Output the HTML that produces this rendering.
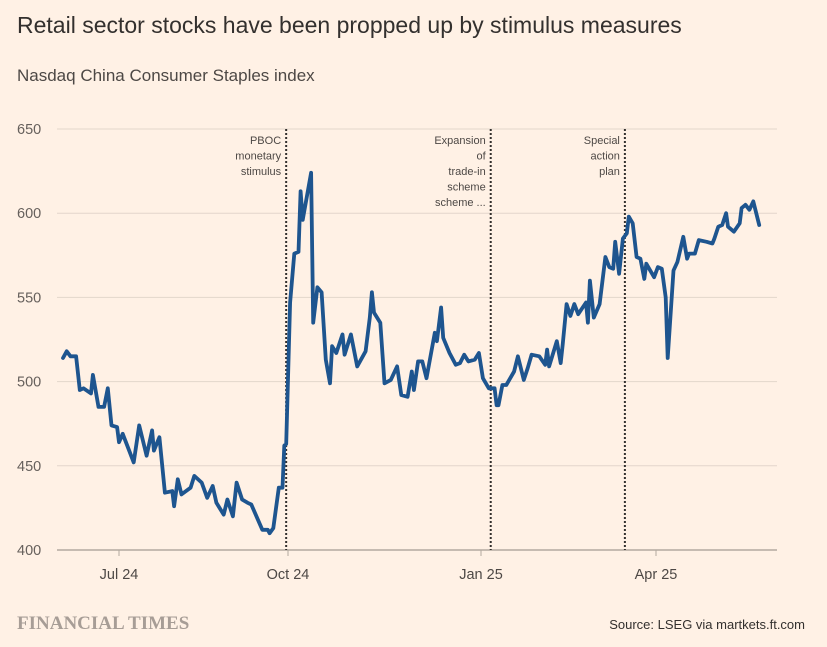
<!DOCTYPE html>
<html><head><meta charset="utf-8">
<style>
body{margin:0;background:#fff1e5;}
svg{display:block;font-family:"Liberation Sans",sans-serif;}
</style></head>
<body>
<svg width="827" height="647" viewBox="0 0 827 647" id="chart">
<rect width="827" height="647" fill="#fff1e5"/>
<text x="17" y="33" font-size="23" fill="#33302e">Retail sector stocks have been propped up by stimulus measures</text>
<text x="17" y="81" font-size="17" fill="#4d4845">Nasdaq China Consumer Staples index</text>
<g id="grid"></g>
<g id="xaxis"></g>
<g id="events"></g>
<g id="series"></g>
<text x="17" y="629" font-size="19" font-weight="bold" fill="#a79d96" font-family="Liberation Serif,serif">FINANCIAL TIMES</text>
<text x="805" y="629" font-size="13" fill="#33302e" text-anchor="end">Source: LSEG via martkets.ft.com</text>
</svg>
<script>
const yTicks=[400,450,500,550,600,650];
const xTickLabels=["Jul 24","Oct 24","Jan 25","Apr 25"];
const xTickDays=[0,92,184,274];
const days=[-30,-28,-26,-23,-21,-19,-15,-14,-11,-8,-6,-4,-1,0,2,8,11,15,18,19,22,25,29,30,32,34,39,41,45,48,51,53,57,59,62,64,67,70,72,78,81,82,84,87,89,90,91,
93,95,97,98,99,103,104,106,108,110,112,113,115,118,119,122,125,129,131,132,133,136,138,141,144,146,149,151,152,154,156,158,162,163,165,166,169,172,174,176,178,181,183,
185,188,191,192,193,195,197,201,203,206,208,210,214,217,218,219,223,225,226,228,230,232,234,238,239,240,242,245,248,250,252,253,255,257,259,260,262,264,266,268,269,273,275,277,279,280,283,285,288,290,291,294,296,300,303,304,306,308,310,311,314,317,318,320,322,324,327];
const values=[514,518,515,515,495,496,493,504,485,485,496,474,473,464,469,452,474,456,471,459,467,434,435,426,442,433,437,444,440,431,438,428,421,430,420,440,430,428,427,412,412,410,413,437,437,462,463,
547,576,577,613,596,624,535,556,553,513,499,521,517,528,516,528,509,518,538,553,541,535,499,501,509,492,491,506,495,512,512,502,529,524,544,526,517,510,511,516,512,513,517,
502,496,496,486,486,498,498,506,515,501,508,516,515,510,519,509,524,511,522,546,539,546,540,547,535,560,538,546,574,568,567,583,564,585,588,598,594,574,573,561,570,562,568,567,550,514,566,571,586,573,576,576,584,583,582,585,592,593,600,592,589,594,603,605,602,607,593];
const eventDays=[91,189,258];
const eventLabels=[["PBOC","monetary","stimulus"],["Expansion","of","trade-in","scheme","scheme ..."],["Special","action","plan"]];

const NS="http://www.w3.org/2000/svg";
const X0=57,X1=777,Y0=550,Y1=129;
function yScale(v){return Y0+(v-400)*(Y1-Y0)/250;}
const anchorsD=[-30,0,92,184,274,330],anchorsX=[63,119,288,481,656,765];
function xScale(d){
  for(let i=0;i<anchorsD.length-1;i++){
    if(d<=anchorsD[i+1]||i===anchorsD.length-2){
      return anchorsX[i]+(d-anchorsD[i])*(anchorsX[i+1]-anchorsX[i])/(anchorsD[i+1]-anchorsD[i]);
    }
  }
}
function mk(tag,attrs,parent){const e=document.createElementNS(NS,tag);for(const k in attrs)e.setAttribute(k,attrs[k]);parent.appendChild(e);return e;}
const grid=document.getElementById('grid');
yTicks.forEach(v=>{
  const l=mk('line',{x1:X0,x2:X1,y1:yScale(v),y2:yScale(v),stroke:v===400?'#b3a9a0':'#e3d6cb','stroke-width':v===400?1.5:1},grid);
  
  
  const t=mk('text',{x:17,y:yScale(v)+5,'font-size':14.5,fill:'#66605c'},grid);
  t.textContent=v;
  
  
});
const xa=document.getElementById('xaxis');
xTickDays.forEach((d,i)=>{
  const x=xScale(d);
  const tk=mk('line',{x1:x,x2:x,y1:Y0,y2:Y0+6,stroke:'#b3a9a0'},xa);
  
  
  const t=mk('text',{x:x,y:579,'font-size':14.5,fill:'#4d4845','text-anchor':'middle'},xa);
  t.textContent=xTickLabels[i];
  
  
});
const ev=document.getElementById('events');
eventDays.forEach((d,i)=>{
  const x=xScale(d);
  const l=mk('line',{x1:x,x2:x,y1:Y1,y2:Y0,stroke:'#33302e','stroke-width':2,'stroke-dasharray':'2,2'},ev);
  
  
  const t=mk('text',{'font-size':11,fill:'#4d4845','text-anchor':'end'},ev);
  
  
  eventLabels[i].forEach((s,j)=>{const ts=mk('tspan',{x:x-5,y:144+j*15.5},t);ts.textContent=s;});
});
const ser=document.getElementById('series');
let dstr=days.map((d,i)=>(i?'L':'M')+xScale(d).toFixed(1)+','+yScale(values[i]).toFixed(1)).join('');
const p=mk('path',{d:dstr,fill:'none',stroke:'#1e558f','stroke-width':3.8,'stroke-linejoin':'round','stroke-linecap':'round'},ser);


</script>
</body></html>
